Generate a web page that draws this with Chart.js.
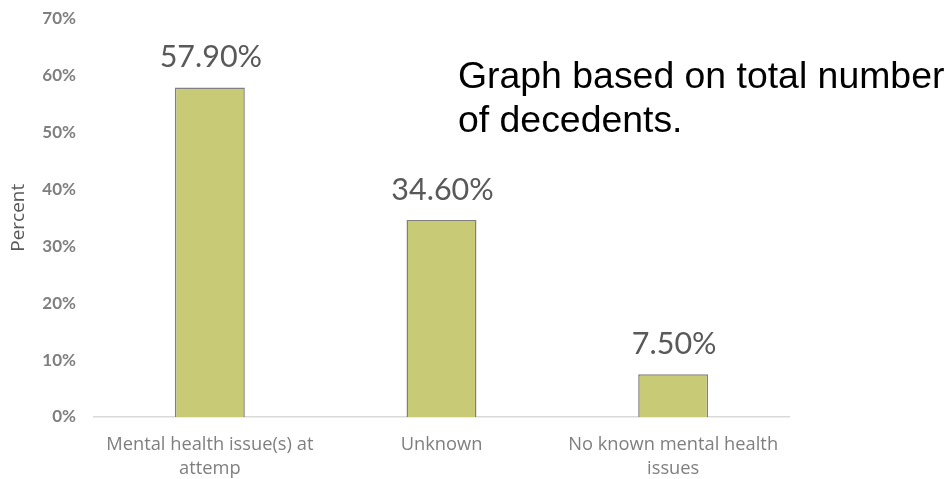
<!DOCTYPE html>
<html>
<head>
<meta charset="utf-8">
<script src="https://cdn.jsdelivr.net/npm/chart.js@4.4.1/dist/chart.umd.min.js"></script>
<style>
html,body{margin:0;padding:0;background:#fff;overflow:hidden;}
canvas{display:block;}
</style>
</head>
<body>
<canvas id="c" width="947" height="479"></canvas>
<script>
const categories = [["Mental health issue(s) at", "attemp"], "Unknown", ["No known mental health", "issues"]];
const percentValues = [57.9, 34.6, 7.5];
const yTickValues = [0, 10, 20, 30, 40, 50, 60, 70];
const noteLines = ["Graph based on total number", "of decedents."];
const yAxisTitle = "Percent";

const valueLabels = {
  id: 'valueLabels',
  afterDatasetsDraw(chart) {
    const ctx = chart.ctx;
    const meta = chart.getDatasetMeta(0);
    ctx.save();
    ctx.font = '30.5px Lato';
    ctx.fillStyle = '#595959';
    ctx.textAlign = 'center';
    ctx.textBaseline = 'alphabetic';
    meta.data.forEach((bar, i) => {
      ctx.fillText(percentValues[i].toFixed(2) + '%', bar.x + 1, bar.y - 20);
    });
    ctx.restore();
  }
};

const note = {
  id: 'note',
  afterDraw(chart) {
    const ctx = chart.ctx;
    ctx.save();
    ctx.font = '37.4px "Liberation Sans"';
    ctx.fillStyle = '#000000';
    ctx.textAlign = 'left';
    ctx.textBaseline = 'alphabetic';
    noteLines.forEach((line, i) => ctx.fillText(line, 458, 88 + i * 44));
    ctx.restore();
  }
};

new Chart(document.getElementById('c'), {
  type: 'bar',
  data: {
    labels: categories,
    datasets: [{
      data: percentValues,
      backgroundColor: '#c8ca75',
      borderColor: '#808080',
      borderWidth: 1.5,
      categoryPercentage: 1,
      barPercentage: 0.302
    }]
  },
  options: {
    responsive: false,
    animation: false,
    layout: { padding: { left: 0, right: 158, top: 18.5, bottom: 0 } },
    plugins: { legend: { display: false }, tooltip: { enabled: false } },
    scales: {
      x: {
        grid: { display: false, drawTicks: false },
        border: { display: true, color: '#d9d9d9', width: 1.5 },
        ticks: {
          color: '#7f7f7f',
          font: { family: '"Open Sans"', size: 18.3, lineHeight: 1.31 },
          padding: 16,
          maxRotation: 0,
          autoSkip: false
        },
        afterFit(scale) { scale.height = 62; }
      },
      y: {
        min: 0,
        max: 70,
        grid: { display: false, drawTicks: false },
        border: { display: false },
        afterBuildTicks(scale) { scale.ticks = yTickValues.map(v => ({ value: v })); },
        ticks: {
          color: '#7f7f7f',
          font: { family: 'Lato', size: 17, weight: 'bold' },
          padding: 18,
          callback: v => v + '%'
        },
        title: {
          display: true,
          text: yAxisTitle,
          color: '#595959',
          font: { family: '"Open Sans"', size: 19 },
          padding: { top: 7, bottom: 0 }
        },
        afterFit(scale) {
          scale.width = 94;
          scale.paddingTop = 0;
          scale.paddingBottom = 0;
        }
      }
    }
  },
  plugins: [valueLabels, note]
});
</script>
</body>
</html>
